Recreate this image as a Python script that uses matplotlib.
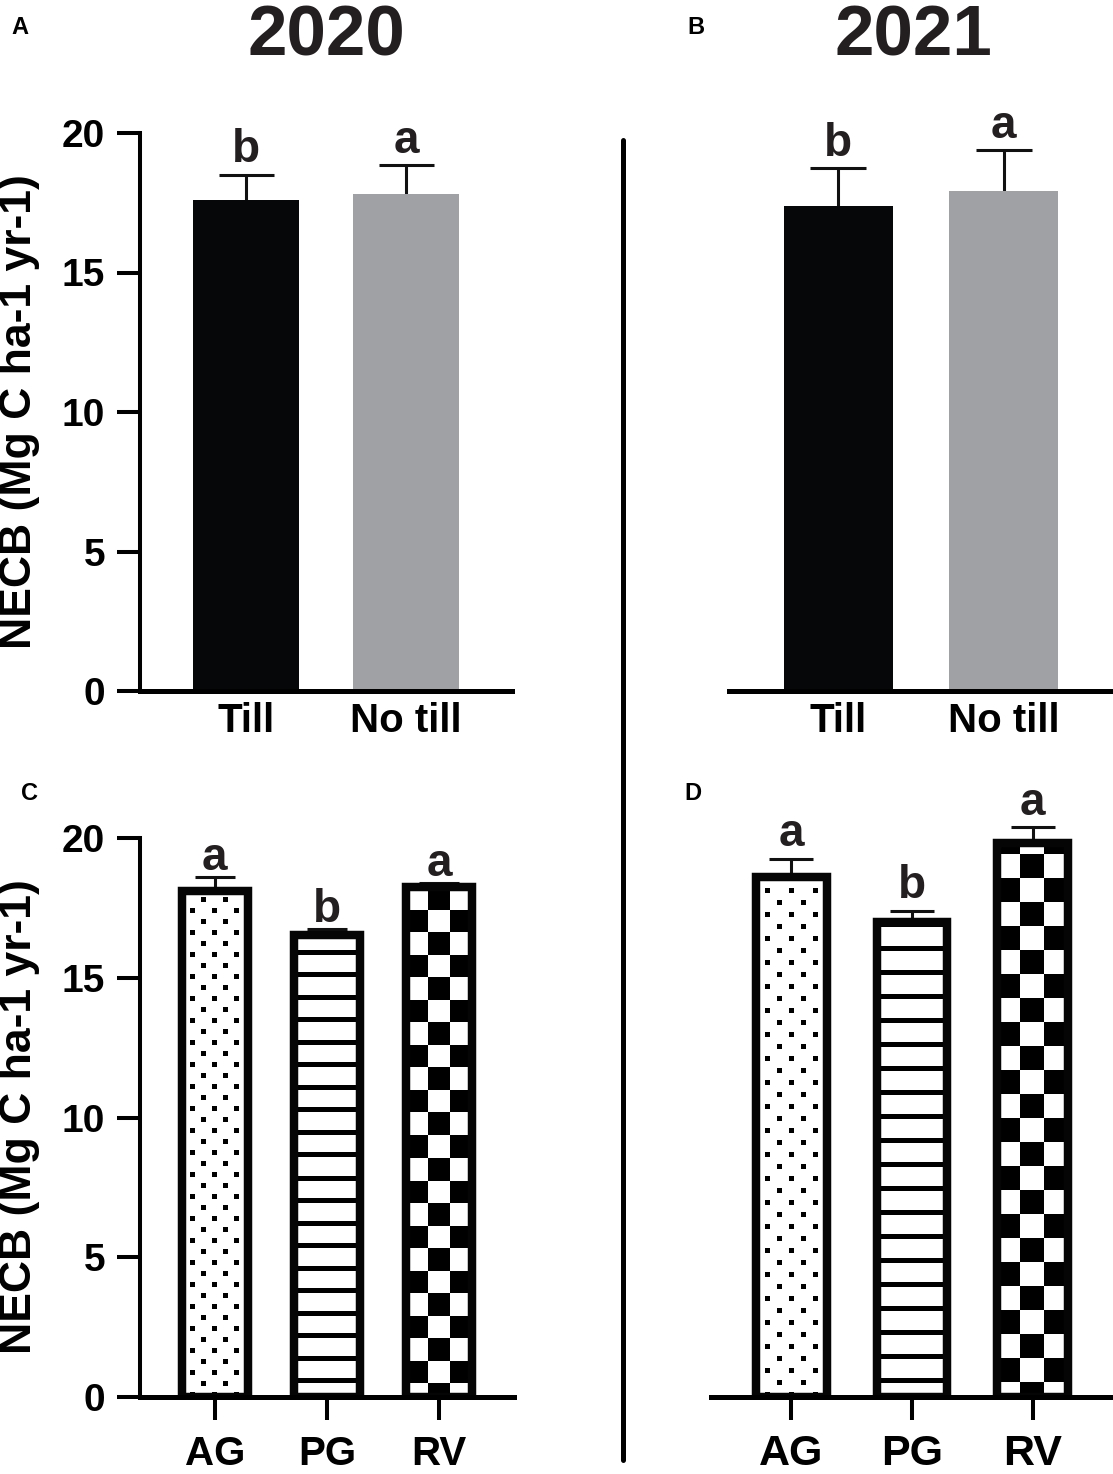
import numpy as np
import matplotlib
matplotlib.use("Agg")
import matplotlib.pyplot as plt
from matplotlib.lines import Line2D

plt.rcParams['font.family'] = ['Liberation Sans', 'DejaVu Sans']
plt.rcParams['font.weight'] = 'bold'

# ---------------- data ----------------
tillage_cats = ["Till", "No till"]
till_2020 = [17.6, 17.8]
till_2020_err = [0.9, 1.05]
till_2020_letters = ["b", "a"]
till_2021 = [17.4, 17.92]
till_2021_err = [1.33, 1.47]
till_2021_letters = ["b", "a"]

crop_cats = ["AG", "PG", "RV"]
crop_2020 = [18.1, 16.53, 18.25]
crop_2020_err = [0.5, 0.2, 0.14]
crop_2020_letters = ["a", "b", "a"]
crop_2021 = [18.6, 16.99, 19.82]
crop_2021_err = [0.65, 0.4, 0.57]
crop_2021_letters = ["a", "b", "a"]

years = ["2020", "2021"]
panel_labels = ["A", "B", "C", "D"]
yticks = [0, 5, 10, 15, 20]
ylabel = "NECB (Mg C ha-1 yr-1)"

till_colors = ["#050708", "#a0a1a5"]
patterns = ["dots", "stripes", "checker"]

W, H = 1113, 1474
fig = plt.figure(figsize=(W / 100, H / 100), dpi=100)


def ax_px(x0, x1, ytop, ybot):
    return fig.add_axes([x0 / W, 1 - ybot / H, (x1 - x0) / W, (ybot - ytop) / H])


TXT = "#231f20"


def style_axes(ax, show_y, show_xticks, xlabsize, xpad):
    for s in ["top", "right"]:
        ax.spines[s].set_visible(False)
    ax.spines["left"].set_visible(show_y)
    ax.spines["left"].set_linewidth(2.9)
    ax.spines["bottom"].set_linewidth(3.6)
    ax.spines["bottom"].set_zorder(6)
    ax.spines["left"].set_zorder(6)
    ax.set_yticks(yticks)
    if show_y:
        ax.tick_params(axis="y", length=16.5, width=2.9, labelsize=28, pad=8.5)
    else:
        ax.tick_params(axis="y", left=False, labelleft=False)
    ax.tick_params(axis="x", length=16.5 if show_xticks else 0, width=2.9,
                   labelsize=xlabsize, pad=xpad)
    for t in ax.get_xticklabels() + ax.get_yticklabels():
        t.set_fontweight("bold")


def add_pattern(ax, patch, kind, cell):
    x0, w, h = patch.get_x(), patch.get_width(), patch.get_height()
    (px0, py0), (px1, py1) = ax.transData.transform([(x0, 0), (x0 + w, h)])
    Wp = int(round(px1 - px0))
    Hp = int(round(py1 - py0))
    yy, xx = np.mgrid[0:Hp, 0:Wp]
    yb = (Hp - 1 - yy).astype(float)
    xc = xx - (Wp - 1) / 2.0
    if kind == "dots":
        s = cell
        d = 5
        xs = xc + d / 2.0
        i = np.floor(xs / s)
        j = np.floor(yb / s)
        on = ((xs - i * s) < d) & ((yb - j * s) < d) & (((i + j) % 2) == 0)
    elif kind == "stripes":
        period = cell
        on = ((yb + period * 0.42) % period) < 5
    else:
        cx = np.floor((xc + cell / 2.0) / cell)
        cy = np.floor((yb + cell * 0.4) / cell)
        on = ((cx + cy) % 2) == 0
    img = np.where(on, 0.0, 1.0)
    im = ax.imshow(img, extent=(x0, x0 + w, 0, h), aspect="auto", cmap="gray",
                   vmin=0, vmax=1, interpolation="nearest", zorder=2.5)
    im.set_clip_path(patch)


def annotate_letters(ax, xs, tops, letters, off):
    for x, t, l in zip(xs, tops, letters):
        ax.annotate(l, (x, t), xytext=(0, off), textcoords="offset points",
                    ha="center", va="baseline", fontsize=33, fontweight="bold",
                    color=TXT, annotation_clip=False)


def errbars(ax, xs, vals, errs, capsize):
    eb = ax.errorbar(xs, vals, yerr=[np.zeros(len(vals)), errs], fmt="none",
                     ecolor="#111111", elinewidth=2.2, capsize=capsize,
                     capthick=2.2, zorder=1.5)
    for a in list(eb.lines[1]) + list(eb.lines[2]):
        a.set_clip_on(False)
    for cl in eb.lines[1]:
        if np.allclose(np.asarray(cl.get_ydata(), float), np.asarray(vals, float)):
            cl.set_visible(False)


# ---------------- top panels (tillage) ----------------
top_specs = [
    (140, 512, till_2020, till_2020_err, till_2020_letters, True),
    (729, 1113, till_2021, till_2021_err, till_2021_letters, False),
]
for k, (x0, x1, vals, errs, lets, showy) in enumerate(top_specs):
    ax = ax_px(x0, x1, 133, 691)
    xs = np.arange(len(tillage_cats))
    ax.set_xlim(-0.66, 1.66)
    ax.set_ylim(0, 20)
    ax.bar(xs, vals, width=0.66, color=till_colors, zorder=2)
    errbars(ax, xs, vals, errs, 19.8 if k == 0 else 20.5)
    annotate_letters(ax, xs, np.array(vals) + np.array(errs), lets, 9)
    ax.set_xticks(xs)
    ax.set_xticklabels(tillage_cats)
    style_axes(ax, showy, False, 29, 8)
    ax.set_xlim(-0.66, 1.66)
    ax.set_ylim(0, 20)

# ---------------- bottom panels (crops) ----------------
bot_specs = [
    (140, 514, crop_2020, crop_2020_err, crop_2020_letters, True, 11, 22.5, 14.4, 5, 29, 11),
    (711, 1113, crop_2021, crop_2021_err, crop_2021_letters, False, 12, 24, 15.5, 9, 31, 10),
]
for (x0, x1, vals, errs, lets, showy, dsp, per, cap, loff, xls, xpad) in bot_specs:
    ax = ax_px(x0, x1, 838, 1397)
    xs = np.arange(len(crop_cats))
    ax.set_xlim(-0.667, 2.667)
    ax.set_ylim(0, 20)
    base = ax.bar(xs, vals, width=0.585, color="white", edgecolor="none", zorder=2)
    cells = {"dots": dsp, "stripes": per, "checker": per}
    for p, kind in zip(base.patches, patterns):
        add_pattern(ax, p, kind, cells[kind])
    ax.bar(xs, vals, width=0.585, fill=False, edgecolor="#050505",
           linewidth=6.1, zorder=3)
    errbars(ax, xs, vals, errs, cap)
    annotate_letters(ax, xs, np.array(vals) + np.array(errs), lets, loff)
    ax.set_xticks(xs)
    ax.set_xticklabels(crop_cats)
    style_axes(ax, showy, True, xls, xpad)
    ax.set_xlim(-0.667, 2.667)
    ax.set_ylim(0, 20)

# ---------------- figure texts ----------------
fig.text(326 / W, 1 - 56 / H, years[0], ha="center", va="baseline",
         fontsize=51, fontweight="bold", color=TXT)
fig.text(913 / W, 1 - 56 / H, years[1], ha="center", va="baseline",
         fontsize=51, fontweight="bold", color=TXT)
for lab, (px, py) in zip(panel_labels, [(20, 28), (696, 27), (30, 793), (693, 793)]):
    fig.text(px / W, 1 - py / H, lab, ha="center", va="center",
             fontsize=17, fontweight="bold", color="black")
for yc in [412, 1117]:
    fig.text(20 / W, 1 - yc / H, ylabel, rotation=90, ha="center", va="center",
             fontsize=32, fontweight="bold", color="black")

fig.add_artist(Line2D([623 / W, 623 / W], [1 - 140 / H, 1 - 1460 / H],
                      transform=fig.transFigure, color="black", linewidth=3.6,
                      solid_capstyle="round"))

fig.savefig("out.png", dpi=100)
